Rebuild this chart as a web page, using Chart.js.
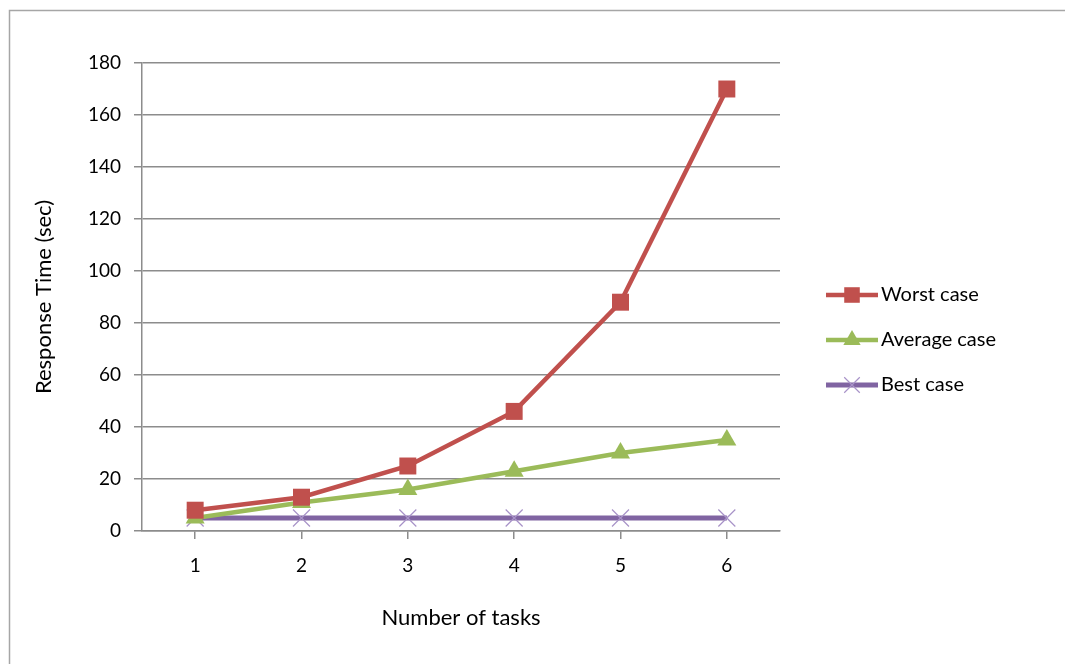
<!DOCTYPE html>
<html lang="en">
<head>
  <meta charset="UTF-8">
  <title>Response Time vs Number of tasks</title>
  <script src="https://cdn.jsdelivr.net/npm/chart.js"></script>
  <style>
    html, body {
      margin: 0;
      padding: 0;
      background: #ffffff;
    }
    #wrap {
      position: relative;
      width: 1065px;
      height: 664px;
    }
  </style>
</head>
<body>
  <div id="wrap">
    <canvas id="grafico"></canvas>
  </div>

  <script>
    const tasks = ['1', '2', '3', '4', '5', '6'];
    const worstCase = [8, 13, 25, 46, 88, 170];
    const averageCase = [5, 11, 16, 23, 30, 35];
    const bestCase = [5, 5, 5, 5, 5, 5];
    const yTicks = [0, 20, 40, 60, 80, 100, 120, 140, 160, 180];

    const fonte = 'Lato, "Open Sans", sans-serif';
    const cinza = '#8c8c8c';

    // moldura cinza e legenda com linha + marcador, como no Excel
    const molduraELegenda = {
      id: 'molduraELegenda',
      beforeDraw(chart) {
        const ctx = chart.ctx;
        ctx.save();
        ctx.strokeStyle = '#a6a6a6';
        ctx.lineWidth = 1.5;
        ctx.strokeRect(9.5, 10.5, 1080, 700);
        ctx.restore();
      },
      afterDraw(chart) {
        const ctx = chart.ctx;
        const x0 = 826, x1 = 878;
        let y = 295;
        ctx.save();
        chart.data.datasets.forEach(function (ds) {
          ctx.strokeStyle = ds.borderColor;
          ctx.lineWidth = ds.borderWidth;
          ctx.beginPath();
          ctx.moveTo(x0, y);
          ctx.lineTo(x1, y);
          ctx.stroke();
          ctx.fillStyle = ds.pointBackgroundColor;
          ctx.strokeStyle = ds.pointBorderColor;
          ctx.lineWidth = ds.pointBorderWidth;
          Chart.helpers.drawPoint(ctx, {
            pointStyle: ds.pointStyle,
            radius: ds.pointRadius - 1,
            borderWidth: ds.pointBorderWidth
          }, (x0 + x1) / 2, y);
          ctx.fillStyle = '#000';
          ctx.font = '20px ' + fonte;
          ctx.textBaseline = 'middle';
          ctx.textAlign = 'left';
          ctx.fillText(ds.label, 881, y);
          y += 45;
        });
        ctx.restore();
      }
    };

    const ctx = document.getElementById('grafico').getContext('2d');
    new Chart(ctx, {
      type: 'line',
      data: {
        labels: tasks,
        datasets: [
          {
            label: 'Worst case',
            data: worstCase,
            borderColor: '#C0504D',
            backgroundColor: '#C0504D',
            borderWidth: 4.5,
            pointStyle: 'rect',
            pointRadius: 12,
            pointBorderWidth: 0,
            pointBackgroundColor: '#C0504D',
            pointBorderColor: '#C0504D'
          },
          {
            label: 'Average case',
            data: averageCase,
            borderColor: '#9BBB59',
            backgroundColor: '#9BBB59',
            borderWidth: 4.5,
            pointStyle: 'triangle',
            pointRadius: 11,
            pointBorderWidth: 0,
            pointBackgroundColor: '#9BBB59',
            pointBorderColor: '#9BBB59'
          },
          {
            label: 'Best case',
            data: bestCase,
            borderColor: '#8064A2',
            backgroundColor: '#8064A2',
            borderWidth: 5,
            pointStyle: 'crossRot',
            pointRadius: 12,
            pointBorderWidth: 1.2,
            pointBackgroundColor: '#a893c8',
            pointBorderColor: '#a893c8'
          }
        ]
      },
      options: {
        responsive: true,
        maintainAspectRatio: false,
        animation: false,
        events: [],
        layout: {
          padding: { left: 0, top: 63, right: 285, bottom: 0 }
        },
        plugins: {
          legend: { display: false },
          tooltip: { enabled: false }
        },
        scales: {
          x: {
            offset: true,
            grid: {
              offset: false,
              drawOnChartArea: false,
              color: cinza,
              tickLength: 8,
              lineWidth: 1.5
            },
            border: { color: cinza, width: 1.5 },
            ticks: {
              padding: 15,
              color: '#000',
              font: { family: fonte, size: 19 }
            },
            title: {
              display: true,
              text: 'Number of tasks',
              color: '#000',
              font: { family: fonte, size: 22 },
              padding: { top: 0, bottom: 33 }
            },
            afterFit(scale) { scale.height = 133; }
          },
          y: {
            min: 0,
            max: 180,
            afterBuildTicks(scale) {
              scale.ticks = yTicks.map(v => ({ value: v }));
            },
            grid: {
              color: cinza,
              tickLength: 8,
              lineWidth: 1.5
            },
            border: { color: cinza, width: 1.5 },
            ticks: {
              padding: 13,
              color: '#000',
              font: { family: fonte, size: 19 }
            },
            title: {
              display: true,
              text: 'Response Time (sec)',
              color: '#000',
              font: { family: fonte, size: 22 },
              padding: { top: 31, bottom: 0 }
            },
            afterFit(scale) { scale.width = 142; }
          }
        }
      },
      plugins: [molduraELegenda]
    });
  </script>
</body>
</html>
